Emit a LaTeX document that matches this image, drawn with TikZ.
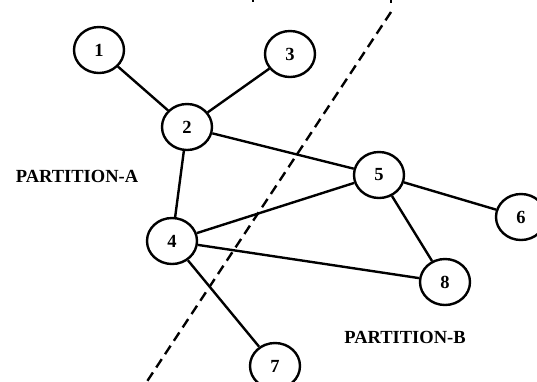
\documentclass[tikz,border=0pt]{standalone}
\usepackage{fontspec}
\setmainfont{Liberation Serif}
\usetikzlibrary{shapes.geometric}
\begin{document}
\begin{tikzpicture}[x=1pt,y=-1pt,
  vtx/.style={draw,ellipse,line width=2.4pt,minimum width=50pt,minimum height=46pt,inner sep=0pt,font=\fontsize{18.5}{20}\selectfont\bfseries},
  lbl/.style={font=\fontsize{18.5}{20}\selectfont\bfseries,inner sep=0pt},
  edge/.style={line width=2.4pt},
  cut/.style={line width=2.4pt,dash pattern=on 10pt off 6pt}]
\useasboundingbox (0,0) rectangle (537,381);
\node[vtx] (n1) at (99,50) {1};
\node[vtx] (n3) at (290,54) {3};
\node[vtx] (n2) at (187,127) {2};
\node[vtx] (n5) at (379,175) {5};
\node[vtx] (n6) at (521,217) {6};
\node[vtx] (n4) at (172,241) {4};
\node[vtx] (n8) at (445,282) {8};
\node[vtx] (n7) at (275,366) {7};
\node[lbl] (pa) at (77,176) {PARTITION-A};
\node[lbl] (pb) at (405,337) {PARTITION-B};
\draw[edge] (n1) -- (n2);
\draw[edge] (n3) -- (n2);
\draw[edge] (n2) -- (n4);
\draw[edge] (n2) -- (n5);
\draw[edge] (n5) -- (n6);
\draw[edge] (n5) -- (n4);
\draw[edge] (n5) -- (n8);
\draw[edge] (n4) -- (n8);
\draw[edge] (n4) -- (n7);
\coordinate (ct) at (391,12);
\coordinate (cb) at (144,386);
\draw[cut] (ct) -- (cb);
\coordinate (t1a) at (253,-2);
\coordinate (t1b) at (253,2);
\coordinate (t2a) at (391,-2);
\coordinate (t2b) at (391,3);
\draw[edge] (t1a) -- (t1b);
\draw[edge] (t2a) -- (t2b);
\end{tikzpicture}
\end{document}
